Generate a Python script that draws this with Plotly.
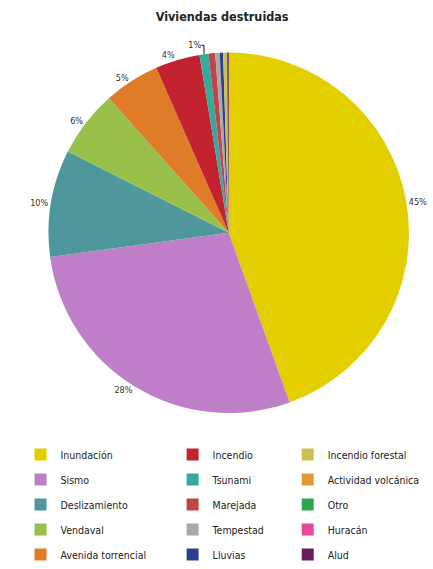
import plotly.graph_objects as go

title = "Viviendas destruidas"
labels = ["Inundación", "Sismo", "Deslizamiento", "Vendaval", "Avenida torrencial",
          "Incendio", "Tsunami", "Marejada", "Tempestad", "Lluvias",
          "Incendio forestal", "Actividad volcánica", "Otro", "Huracán", "Alud"]
values = [44.6, 28.4, 9.6, 6.0, 5.0, 4.0, 0.8, 0.6, 0.4, 0.3, 0.3, 0.02, 0.02, 0.02, 0.14]
colors = ["#E3CF00", "#BF7FC8", "#4E989C", "#98C04A", "#E07B28",
          "#C2232E", "#36AA9C", "#C0454B", "#A9A9A9", "#2B3F8F",
          "#CBC152", "#E39A34", "#2EA84A", "#E8489A", "#6B1A5A"]

total = sum(values)
texts = [f"{v / total * 100:.0f}%" if v / total * 100 >= 0.75 else "" for v in values]

FONT = "DejaVu Sans Condensed, Liberation Sans Narrow, Arial Narrow, sans-serif"

fig = go.Figure()
fig.add_trace(go.Pie(
    labels=labels, values=values, text=texts, textinfo="text",
    textposition="outside", sort=False, direction="clockwise", rotation=0,
    marker=dict(colors=colors, line=dict(width=0)),
    textfont=dict(family=FONT, size=9, color="#333333"),
    showlegend=False, hoverinfo="label+percent",
    domain=dict(x=[0.118, 0.995], y=[0.24, 0.912]),
))

# Legend entries (three columns, column-major as in the reference)
legend_names = ["legend", "legend2", "legend3"]
for i, (lab, col) in enumerate(zip(labels, colors)):
    fig.add_trace(go.Scatter(
        x=[None], y=[None], mode="markers", name=lab,
        marker=dict(symbol="square", size=12, color=col),
        legend=legend_names[i // 5], legendgroup=lab, showlegend=True,
    ))

leg_common = dict(orientation="v", yanchor="top", y=0.198, xanchor="left",
                  font=dict(family=FONT, size=10.5, color="#222222"),
                  bgcolor="rgba(0,0,0,0)", tracegroupgap=6, itemwidth=30)
fig.update_layout(
    width=433, height=569,
    margin=dict(l=0, r=0, t=0, b=0),
    paper_bgcolor="white", plot_bgcolor="white",
    title=dict(text="<b>" + title + "</b>", x=0.513, xanchor="center", y=0.97,
               yanchor="middle",
               font=dict(family=FONT, size=12.5, color="#222222")),
    xaxis=dict(visible=False), yaxis=dict(visible=False),
    legend=dict(x=0.05, **leg_common),
    legend2=dict(x=0.42, **leg_common),
    legend3=dict(x=0.70, **leg_common),
)

fig.write_html("out.html")
